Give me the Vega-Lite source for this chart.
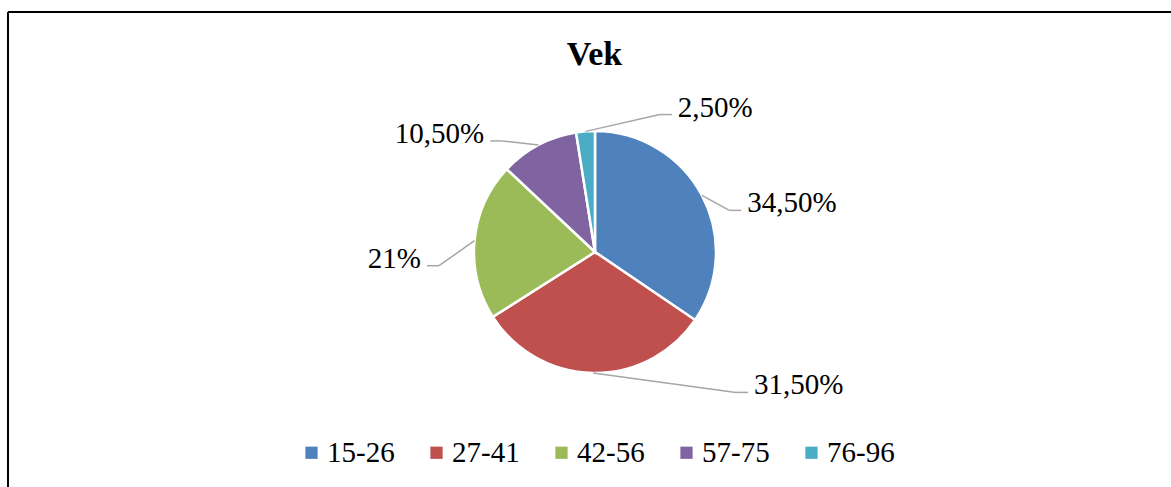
{
  "$schema": "https://vega.github.io/schema/vega-lite/v6.json",
  "width": 1163,
  "height": 475,
  "autosize": {"type": "none"},
  "padding": {"left": 8, "top": 12, "right": 0, "bottom": 0},
  "background": "white",
  "config": {
    "view": {"stroke": null},
    "font": "Liberation Serif",
    "legend": {
      "orient": "none",
      "legendX": 289,
      "legendY": 426,
      "direction": "horizontal",
      "padding": 0,
      "labelFont": "Liberation Serif",
      "labelFontSize": 29,
      "labelColor": "black",
      "labelOffset": 1,
      "symbolType": "square",
      "symbolSize": 150,
      "symbolStrokeWidth": 0,
      "columnPadding": 27
    }
  },
  "title": {
    "text": "Vek",
    "font": "Liberation Serif",
    "fontSize": 34,
    "fontWeight": "bold",
    "color": "black",
    "anchor": "middle",
    "baseline": "alphabetic",
    "offset": -88,
    "dx": 5
  },
  "data": {
    "values": [
      {"group": "15-26", "value": 34.5, "label": "34,50%"},
      {"group": "27-41", "value": 31.5, "label": "31,50%"},
      {"group": "42-56", "value": 21, "label": "21%"},
      {"group": "57-75", "value": 10.5, "label": "10,50%"},
      {"group": "76-96", "value": 2.5, "label": "2,50%"}
    ]
  },
  "transform": [
    {"joinaggregate": [{"op": "sum", "field": "value", "as": "total"}]},
    {"window": [{"op": "sum", "field": "value", "as": "cum"}], "sort": [{"field": "group", "order": "ascending"}], "frame": [null, 0]},
    {"calculate": "(datum.cum - datum.value / 2) / datum.total * 2 * PI", "as": "mid"},
    {"calculate": "sin(datum.mid) > -0.1 ? 1 : -1", "as": "side"},
    {"calculate": "121 * sin(datum.mid)", "as": "ax"},
    {"calculate": "121 * cos(datum.mid)", "as": "ay"},
    {"calculate": "datum.side * (112 + 60 * abs(sin(datum.mid)) - 40 * cos(datum.mid))", "as": "lx"},
    {"calculate": "140 * cos(datum.mid) - 27 * abs(sin(datum.mid))", "as": "ly"},
    {"calculate": "datum.lx - datum.side * 12", "as": "ex"},
    {"calculate": "datum.lx + datum.side * 6", "as": "tx"},
    {"calculate": "datum.ly - 2", "as": "ty"}
  ],
  "layer": [
    {
      "mark": {"type": "rule", "color": "black", "strokeWidth": 2},
      "encoding": {
        "x": {"datum": -587, "type": "quantitative", "scale": {"domain": [-587, 576], "nice": false, "zero": false}, "axis": null}
      }
    },
    {
      "mark": {"type": "rule", "color": "black", "strokeWidth": 2},
      "encoding": {
        "y": {"datum": 240, "type": "quantitative", "scale": {"domain": [-235, 240], "nice": false, "zero": false}, "axis": null}
      }
    },
    {
      "mark": {"type": "arc", "outerRadius": 121, "stroke": "white", "strokeWidth": 2.5},
      "encoding": {
        "theta": {"field": "value", "type": "quantitative", "stack": true},
        "order": {"field": "group", "sort": "ascending"},
        "color": {
          "field": "group",
          "type": "nominal",
          "title": null,
          "scale": {"domain": ["15-26", "27-41", "42-56", "57-75", "76-96"], "range": ["#4F81BD", "#C0504D", "#9BBB59", "#8064A2", "#4BACC6"]}
        },
        "x": {"datum": 0, "type": "quantitative", "scale": {"domain": [-587, 576], "nice": false, "zero": false}, "axis": null},
        "y": {"datum": 0, "type": "quantitative", "scale": {"domain": [-235, 240], "nice": false, "zero": false}, "axis": null}
      }
    },
    {
      "mark": {"type": "rule", "color": "#A6A6A6", "strokeWidth": 1.5},
      "encoding": {
        "x": {"field": "ax", "type": "quantitative", "scale": {"domain": [-587, 576], "nice": false, "zero": false}, "axis": null},
        "y": {"field": "ay", "type": "quantitative", "scale": {"domain": [-235, 240], "nice": false, "zero": false}, "axis": null},
        "x2": {"field": "ex"},
        "y2": {"field": "ly"}
      }
    },
    {
      "mark": {"type": "rule", "color": "#A6A6A6", "strokeWidth": 1.5},
      "encoding": {
        "x": {"field": "ex", "type": "quantitative", "scale": {"domain": [-587, 576], "nice": false, "zero": false}, "axis": null},
        "y": {"field": "ly", "type": "quantitative", "scale": {"domain": [-235, 240], "nice": false, "zero": false}, "axis": null},
        "x2": {"field": "lx"},
        "y2": {"field": "ly"}
      }
    },
    {
      "transform": [{"filter": "datum.side > 0"}],
      "mark": {"type": "text", "align": "left", "baseline": "alphabetic", "font": "Liberation Serif", "fontSize": 29, "color": "black"},
      "encoding": {
        "x": {"field": "tx", "type": "quantitative", "scale": {"domain": [-587, 576], "nice": false, "zero": false}, "axis": null},
        "y": {"field": "ty", "type": "quantitative", "scale": {"domain": [-235, 240], "nice": false, "zero": false}, "axis": null},
        "text": {"field": "label", "type": "nominal"}
      }
    },
    {
      "transform": [{"filter": "datum.side < 0"}],
      "mark": {"type": "text", "align": "right", "baseline": "alphabetic", "font": "Liberation Serif", "fontSize": 29, "color": "black"},
      "encoding": {
        "x": {"field": "tx", "type": "quantitative", "scale": {"domain": [-587, 576], "nice": false, "zero": false}, "axis": null},
        "y": {"field": "ty", "type": "quantitative", "scale": {"domain": [-235, 240], "nice": false, "zero": false}, "axis": null},
        "text": {"field": "label", "type": "nominal"}
      }
    }
  ]
}
